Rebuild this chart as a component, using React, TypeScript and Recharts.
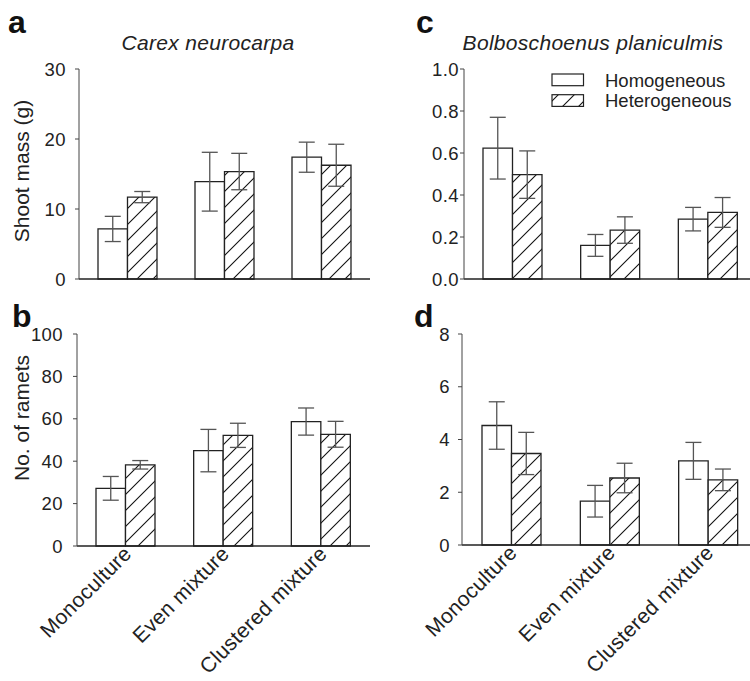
import React from "react";
import { BarChart, Bar, XAxis, YAxis, ErrorBar, Legend } from "recharts";

const CATEGORIES = ["Monoculture", "Even mixture", "Clustered mixture"];
const SERIES_ORDER = ["homo", "hetero"];

// Carex neurocarpa
const CN_SHOOT_HOMO = [7.15, 13.9, 17.4];
const CN_SHOOT_HOMO_SE = [1.8, 4.2, 2.15];
const CN_SHOOT_HETERO = [11.7, 15.35, 16.25];
const CN_SHOOT_HETERO_SE = [0.8, 2.6, 3.0];
const CN_RAMETS_HOMO = [27.2, 45.0, 58.7];
const CN_RAMETS_HOMO_SE = [5.6, 10.0, 6.4];
const CN_RAMETS_HETERO = [38.3, 52.2, 52.7];
const CN_RAMETS_HETERO_SE = [2.0, 5.7, 6.1];

// Bolboschoenus planiculmis
const BP_SHOOT_HOMO = [0.623, 0.16, 0.285];
const BP_SHOOT_HOMO_SE = [0.147, 0.052, 0.056];
const BP_SHOOT_HETERO = [0.497, 0.233, 0.317];
const BP_SHOOT_HETERO_SE = [0.113, 0.063, 0.071];
const BP_RAMETS_HOMO = [4.53, 1.66, 3.19];
const BP_RAMETS_HOMO_SE = [0.9, 0.6, 0.7];
const BP_RAMETS_HETERO = [3.47, 2.54, 2.47];
const BP_RAMETS_HETERO_SE = [0.8, 0.56, 0.41];

const CN_SHOOT_TICKS = [0, 10, 20, 30];
const CN_RAMET_TICKS = [0, 20, 40, 60, 80, 100];
const BP_SHOOT_TICKS = [0, 0.2, 0.4, 0.6, 0.8, 1.0];
const BP_RAMET_TICKS = [0, 2, 4, 6, 8];

const FONT = "'Liberation Sans', Arial, Helvetica, sans-serif";
const INK = "#222";

function buildRows(homo: number[], homoSe: number[], het: number[], hetSe: number[]) {
  return CATEGORIES.map((cat, i) => ({
    cat,
    homo: homo[i],
    homoSe: homoSe[i],
    hetero: het[i],
    heteroSe: hetSe[i],
  }));
}

function XTick(props: any) {
  const { x, y, payload } = props;
  const ax = x + 7;
  const ay = y + 9;
  return (
    <text
      x={ax}
      y={ay}
      transform={`rotate(-45 ${ax} ${ay})`}
      textAnchor="end"
      fontSize={21}
      letterSpacing={0.3}
      fill={INK}
    >
      {payload.value}
    </text>
  );
}

function LegendBox(props: any) {
  const items = [...(props.payload || [])].sort(
    (a: any, b: any) => SERIES_ORDER.indexOf(a.dataKey) - SERIES_ORDER.indexOf(b.dataKey)
  );
  return (
    <svg width={200} height={44} style={{ display: "block" }}>
      {items.map((it: any, i: number) => (
        <g key={i}>
          <rect
            x={1}
            y={4 + i * 20.7}
            width={31.5}
            height={11.7}
            fill={it.payload?.fill ?? it.color}
            stroke={INK}
            strokeWidth={1.2}
          />
          <text
            x={54}
            y={10 + i * 20.7}
            dominantBaseline="central"
            fontSize={18.5}
            fill={INK}
          >
            {it.value}
          </text>
        </g>
      ))}
    </svg>
  );
}

interface PanelProps {
  id: string;
  left: number;
  top: number;
  width: number;
  height: number;
  margin: { top: number; right: number; bottom: number; left: number };
  rows: any[];
  ticks: number[];
  decimals: number;
  tickMargin: number;
  xLabels: boolean;
  legend?: boolean;
}

function Panel(p: PanelProps) {
  const hatch = `hatch-${p.id}`;
  return (
    <div style={{ position: "absolute", left: p.left, top: p.top }}>
      <BarChart
        width={p.width}
        height={p.height}
        data={p.rows}
        margin={p.margin}
        barGap={0}
      >
        <defs>
          <pattern id={hatch} patternUnits="userSpaceOnUse" width={16} height={16}>
            <rect width={16} height={16} fill="#fff" />
            <path
              d="M0,16 L16,0 M-4,4 L4,-4 M12,20 L20,12"
              stroke="#111"
              strokeWidth={1.1}
            />
          </pattern>
        </defs>
        <XAxis
          dataKey="cat"
          interval={0}
          tickLine={false}
          tickSize={0}
          tickMargin={0}
          axisLine={{ stroke: INK, strokeWidth: 1.5 }}
          tick={p.xLabels ? <XTick /> : false}
          height={p.xLabels ? 101 : 1}
        />
        <YAxis
          type="number"
          domain={[p.ticks[0], p.ticks[p.ticks.length - 1]]}
          ticks={p.ticks}
          interval={0}
          width={60}
          tickSize={4}
          tickMargin={p.tickMargin}
          axisLine={{ stroke: "#444", strokeWidth: 1 }}
          tickLine={{ stroke: "#444", strokeWidth: 1 }}
          tick={{ fill: INK, fontSize: 18.5, letterSpacing: 0.4 }}
          tickFormatter={(v: number) => v.toFixed(p.decimals)}
        />
        {p.legend && (
          <Legend
            layout="vertical"
            align="center"
            verticalAlign="middle"
            wrapperStyle={{ left: 176, top: 70, width: 200 }}
            content={<LegendBox />}
          />
        )}
        <Bar
          dataKey="homo"
          name="Homogeneous"
          fill="#fff"
          stroke={INK}
          strokeWidth={1.3}
          barSize={29.5}
          isAnimationActive={false}
        >
          <ErrorBar dataKey="homoSe" width={8} stroke="#555" strokeWidth={1.3} direction="y" />
        </Bar>
        <Bar
          dataKey="hetero"
          name="Heterogeneous"
          fill={`url(#${hatch})`}
          stroke={INK}
          strokeWidth={1.3}
          barSize={29.5}
          isAnimationActive={false}
        >
          <ErrorBar dataKey="heteroSe" width={8} stroke="#555" strokeWidth={1.3} direction="y" />
        </Bar>
      </BarChart>
    </div>
  );
}

export default function App() {
  return (
    <div
      style={{
        position: "absolute",
        left: 0,
        top: 0,
        width: 750,
        height: 681,
        overflow: "hidden",
        background: "#fff",
        fontFamily: FONT,
        color: INK,
      }}
    >
      <Panel
        id="a"
        left={0}
        top={0}
        width={375}
        height={300}
        margin={{ top: 69, right: 5, bottom: 20, left: 19 }}
        rows={buildRows(CN_SHOOT_HOMO, CN_SHOOT_HOMO_SE, CN_SHOOT_HETERO, CN_SHOOT_HETERO_SE)}
        ticks={CN_SHOOT_TICKS}
        decimals={0}
        tickMargin={9}
        xLabels={false}
      />
      <Panel
        id="c"
        left={375}
        top={0}
        width={385}
        height={300}
        margin={{ top: 69, right: 3, bottom: 20, left: 29 }}
        rows={buildRows(BP_SHOOT_HOMO, BP_SHOOT_HOMO_SE, BP_SHOOT_HETERO, BP_SHOOT_HETERO_SE)}
        ticks={BP_SHOOT_TICKS}
        decimals={1}
        tickMargin={1}
        xLabels={false}
        legend
      />
      <Panel
        id="b"
        left={0}
        top={300}
        width={375}
        height={381}
        margin={{ top: 34, right: 5, bottom: 34, left: 17 }}
        rows={buildRows(CN_RAMETS_HOMO, CN_RAMETS_HOMO_SE, CN_RAMETS_HETERO, CN_RAMETS_HETERO_SE)}
        ticks={CN_RAMET_TICKS}
        decimals={0}
        tickMargin={10}
        xLabels
      />
      <Panel
        id="d"
        left={375}
        top={300}
        width={385}
        height={381}
        margin={{ top: 34, right: 3, bottom: 35, left: 27 }}
        rows={buildRows(BP_RAMETS_HOMO, BP_RAMETS_HOMO_SE, BP_RAMETS_HETERO, BP_RAMETS_HETERO_SE)}
        ticks={BP_RAMET_TICKS}
        decimals={0}
        tickMargin={8}
        xLabels
      />
      <svg
        width={750}
        height={681}
        style={{ position: "absolute", left: 0, top: 0, pointerEvents: "none" }}
      >
        <g fontWeight="bold" fontSize={32} fill="#111">
          <text x={8} y={33}>a</text>
          <text x={416} y={33}>c</text>
          <text x={12} y={327}>b</text>
          <text x={414} y={327}>d</text>
        </g>
        <g fontStyle="italic" fontSize={21} letterSpacing={0.3} fill={INK} textAnchor="middle">
          <text x={208} y={50}>Carex neurocarpa</text>
          <text x={593} y={50}>Bolboschoenus planiculmis</text>
        </g>
        <g fontSize={21} fill={INK} textAnchor="middle">
          <text x={28.5} y={171} transform="rotate(-90 28.5 171)">Shoot mass (g)</text>
          <text x={28.5} y={418} transform="rotate(-90 28.5 418)">No. of ramets</text>
        </g>
      </svg>
    </div>
  );
}
